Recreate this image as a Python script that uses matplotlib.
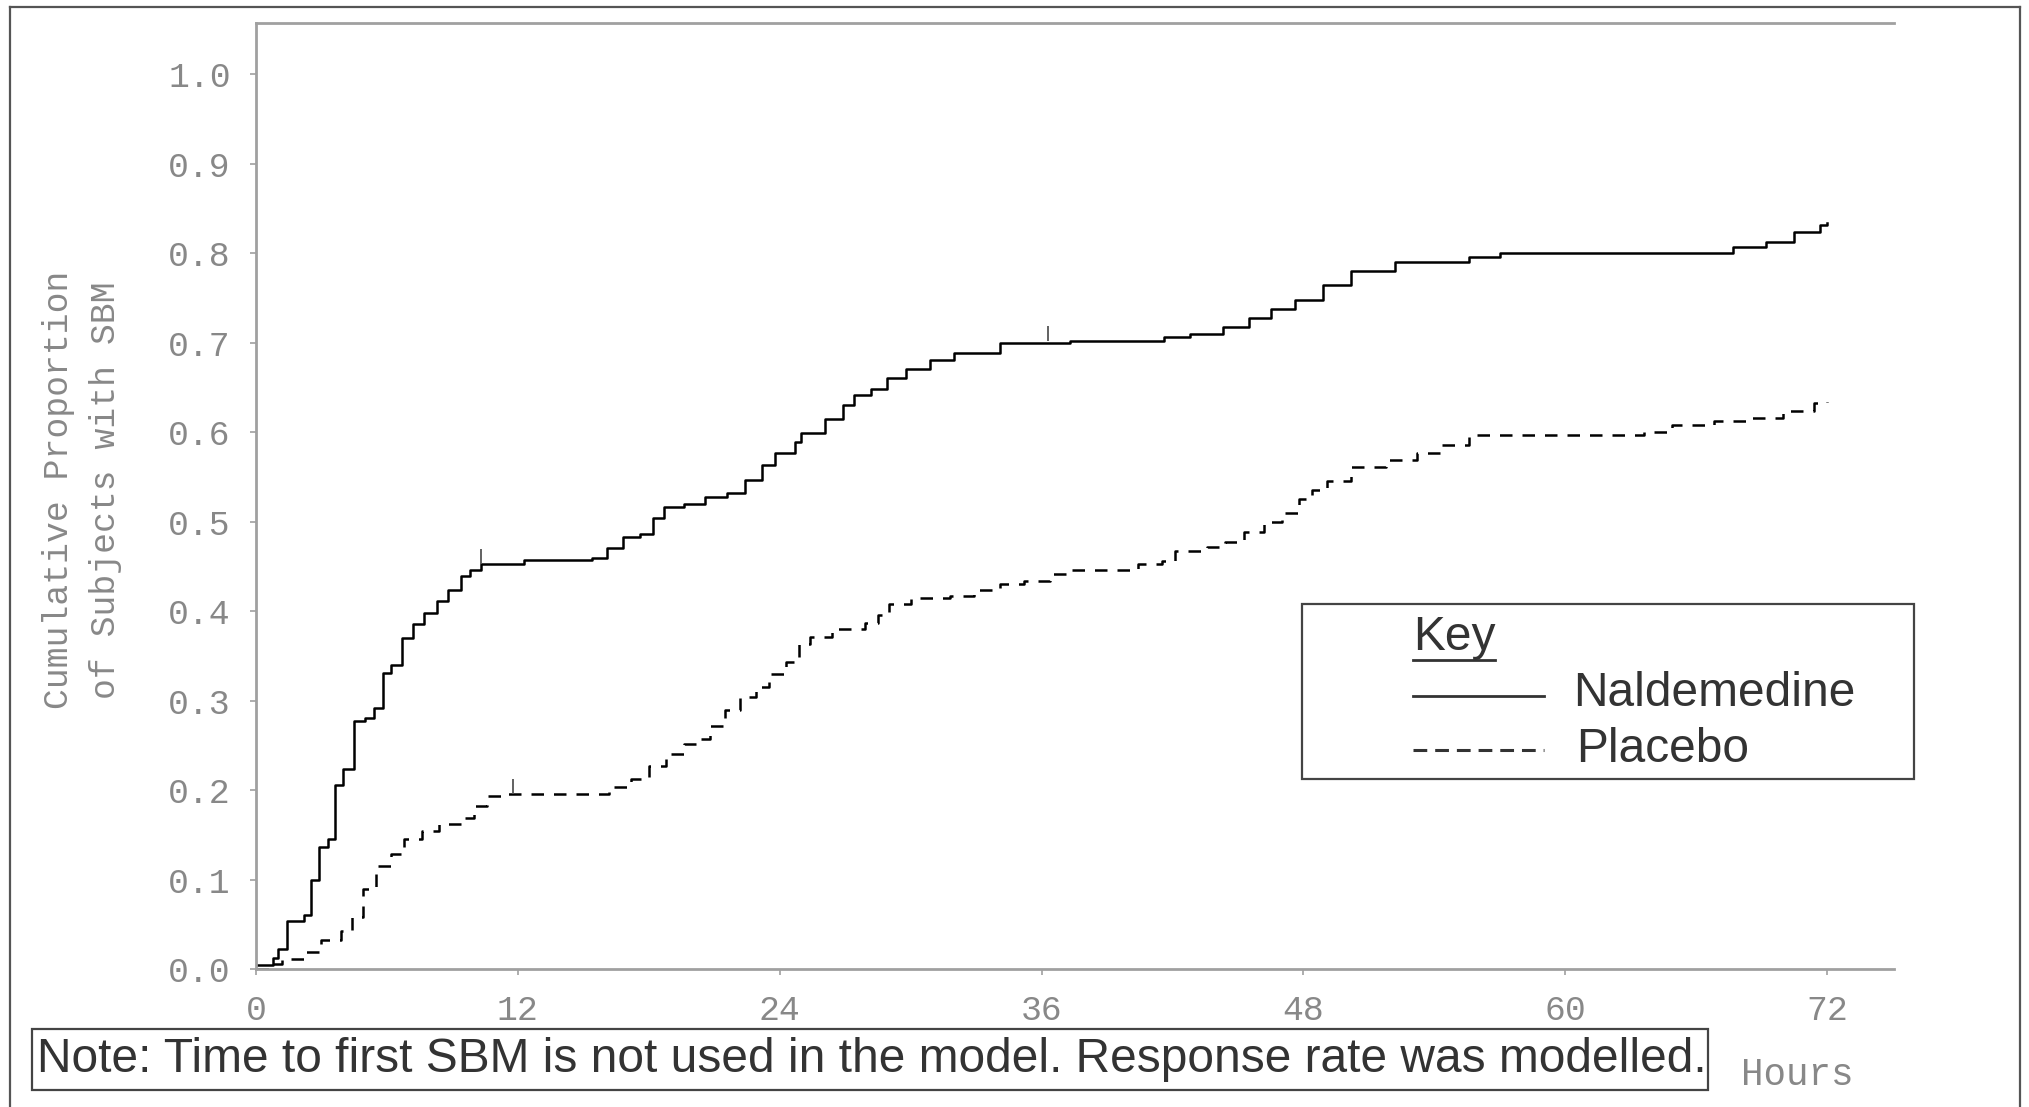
import matplotlib
matplotlib.use("Agg")
import matplotlib.pyplot as plt
from matplotlib.lines import Line2D
from matplotlib.patches import Rectangle

# ---------- data ----------
nal_hours = [0.0, 0.8, 1.0, 1.4, 2.2, 2.5, 2.9, 3.3, 3.6, 4.0,
             4.5, 5.0, 5.4, 5.8, 6.2, 6.7, 7.2, 7.7, 8.3, 8.8,
             9.4, 9.8, 10.3, 12.3, 15.4, 16.1, 16.8, 17.6, 18.2, 18.7,
             19.6, 20.6, 21.6, 22.4, 23.2, 23.8, 24.7, 25.0, 26.1, 26.9,
             27.4, 28.2, 28.9, 29.8, 30.9, 32.0, 34.1, 37.3, 41.6, 42.8,
             44.3, 45.5, 46.5, 47.6, 48.9, 50.2, 52.2, 55.6, 57.0, 67.7,
             69.2, 70.5, 71.7, 72.0]
nal_prop = [0.005, 0.012, 0.022, 0.054, 0.060, 0.099, 0.136, 0.145, 0.206, 0.223,
            0.277, 0.281, 0.292, 0.331, 0.340, 0.370, 0.385, 0.398, 0.411, 0.424,
            0.439, 0.446, 0.452, 0.457, 0.459, 0.470, 0.483, 0.486, 0.504, 0.516,
            0.520, 0.527, 0.532, 0.546, 0.563, 0.576, 0.589, 0.599, 0.615, 0.630,
            0.641, 0.648, 0.660, 0.670, 0.681, 0.688, 0.699, 0.702, 0.706, 0.710,
            0.717, 0.727, 0.738, 0.748, 0.764, 0.780, 0.790, 0.795, 0.800, 0.807,
            0.812, 0.823, 0.831, 0.834]

plc_hours = [0.0, 0.8, 1.2, 2.2, 3.0, 3.9, 4.4, 4.9, 5.5, 6.2,
             6.8, 7.6, 8.4, 9.4, 10.0, 10.6, 11.4, 16.2, 17.2, 18.0,
             18.8, 19.6, 20.3, 20.8, 21.5, 22.2, 22.9, 23.5, 24.3, 24.9,
             25.4, 26.4, 27.9, 28.5, 29.0, 30.0, 31.8, 32.9, 34.1, 35.2,
             36.4, 37.3, 40.4, 41.5, 42.1, 43.6, 44.4, 45.3, 46.2, 47.0,
             47.8, 48.4, 49.1, 50.2, 51.8, 53.2, 54.3, 55.6, 63.6, 64.9,
             66.8, 68.5, 70.0, 71.4, 72.0]
plc_prop = [0.000, 0.006, 0.011, 0.019, 0.032, 0.043, 0.058, 0.089, 0.115, 0.128,
            0.145, 0.154, 0.162, 0.169, 0.182, 0.193, 0.195, 0.203, 0.212, 0.227,
            0.240, 0.251, 0.257, 0.272, 0.289, 0.304, 0.315, 0.330, 0.343, 0.363,
            0.371, 0.380, 0.387, 0.395, 0.408, 0.414, 0.417, 0.423, 0.430, 0.434,
            0.441, 0.446, 0.452, 0.456, 0.467, 0.471, 0.477, 0.488, 0.499, 0.510,
            0.525, 0.535, 0.545, 0.561, 0.569, 0.576, 0.585, 0.597, 0.600, 0.608,
            0.612, 0.616, 0.624, 0.632, 0.634]

# censored observations (small upward ticks)
nal_cens_hours = [10.3, 36.3]
nal_cens_prop = [0.452, 0.702]
plc_cens_hours = [11.8]
plc_cens_prop = [0.195]

x_ticks = [0, 12, 24, 36, 48, 60, 72]
y_ticks = [0.0, 0.1, 0.2, 0.3, 0.4, 0.5, 0.6, 0.7, 0.8, 0.9, 1.0]

W, H = 2029, 1107


def fx(px):
    return px / W


def fy(py):
    return 1 - py / H


fig = plt.figure(figsize=(W / 100, H / 100), dpi=100)

axis_grey = "#a0a0a0"
label_grey = "#888888"
text_dark = "#333333"
mono = "Liberation Mono"
sans = "Liberation Sans"
big = 34.5

ax = fig.add_axes([fx(256), fy(969), fx(1894) - fx(256), fy(23) - fy(969)])
ax.step(nal_hours, nal_prop, where="post", color="black", lw=1.8)
ax.step(plc_hours, plc_prop, where="post", color="black", lw=1.8,
        linestyle=(0, (5, 4)))
ax.plot(nal_cens_hours, nal_cens_prop, ls="none", marker=2, ms=11, mew=1.3, color="#555555")
ax.plot(plc_cens_hours, plc_cens_prop, ls="none", marker=2, ms=11, mew=1.3, color="#555555")

ax.set_xlim(0, 75.07)
ax.set_ylim(0, 1.057)
ax.set_xticks(x_ticks)
ax.set_yticks(y_ticks)
ax.set_yticklabels([f"{v:.1f}" for v in y_ticks])
for side in ["left", "top", "bottom"]:
    ax.spines[side].set_color(axis_grey)
    ax.spines[side].set_linewidth(2)
ax.spines["right"].set_visible(False)
ax.tick_params(length=4, width=1.2, color=axis_grey, labelcolor=label_grey,
               labelsize=25, pad=14)
for lab in ax.get_xticklabels() + ax.get_yticklabels():
    lab.set_family(mono)

fig.text(fx(82), fy(490), "Cumulative Proportion\nof Subjects with SBM",
         rotation=90, ha="center", va="center", multialignment="center",
         family=mono, fontsize=25, color=label_grey, linespacing=1.55)
fig.text(fx(1797), fy(1075), "Hours", ha="center", va="center",
         family=mono, fontsize=27, color=label_grey)

# note box
fig.text(fx(37), fy(1060), "Note: Time to first SBM is not used in the model. Response rate was modelled.",
         ha="left", va="center", family=sans, fontsize=big, color=text_dark)
fig.patches.append(Rectangle((fx(32), fy(1090)), fx(1708) - fx(32), fy(1029) - fy(1090),
                             transform=fig.transFigure, fill=False, ec="#444444", lw=1.6))

# key box
fig.patches.append(Rectangle((fx(1302), fy(779)), fx(1914) - fx(1302), fy(604) - fy(779),
                             transform=fig.transFigure, fill=False, ec="#444444", lw=1.6))
fig.text(fx(1413), fy(638), "Key", ha="left", va="center", family=sans,
         fontsize=big, color=text_dark)
fig.lines.append(Line2D([fx(1413), fx(1495)], [fy(660), fy(660)], transform=fig.transFigure,
                        color=text_dark, lw=2))
fig.lines.append(Line2D([fx(1413), fx(1544)], [fy(696), fy(696)], transform=fig.transFigure,
                        color=text_dark, lw=2))
fig.lines.append(Line2D([fx(1413), fx(1544)], [fy(750), fy(750)], transform=fig.transFigure,
                        color=text_dark, lw=2.2, linestyle=(0, (4.5, 2.6))))
fig.text(fx(1573), fy(694), "Naldemedine", ha="left", va="center", family=sans,
         fontsize=big, color=text_dark)
fig.text(fx(1576), fy(750), "Placebo", ha="left", va="center", family=sans,
         fontsize=big, color=text_dark)

# outer frame
for xs, ys in [([10, 10], [7, 1110]), ([10, 2020], [7, 7]), ([2020, 2020], [7, 1110])]:
    fig.lines.append(Line2D([fx(v) for v in xs], [fy(v) for v in ys],
                            transform=fig.transFigure, color="#555555", lw=1.6))

fig.savefig("out.png", dpi=100)
